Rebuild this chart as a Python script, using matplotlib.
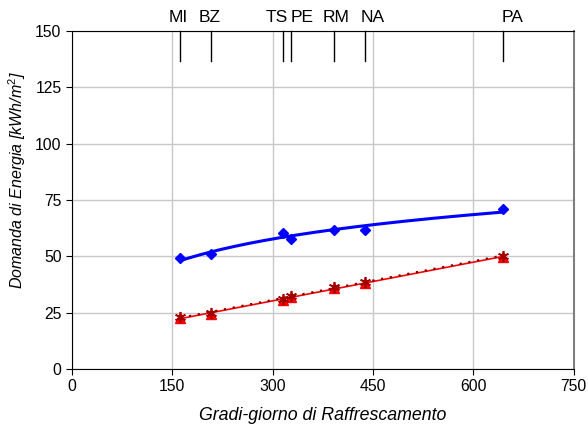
import numpy as np
import matplotlib
matplotlib.use("Agg")
import matplotlib.pyplot as plt

plt.rcParams['font.family'] = ['Liberation Sans', 'DejaVu Sans']
plt.rcParams['mathtext.fontset'] = 'custom'
plt.rcParams['mathtext.rm'] = 'Liberation Sans'
plt.rcParams['mathtext.it'] = 'Liberation Sans:italic'

# cities and cooling degree days
cities = ["MI", "BZ", "TS", "PE", "RM", "NA", "PA"]
gg = [162, 208, 316, 327, 392, 438, 645]

# energy demand
blue = [49.2, 51.0, 60.5, 57.7, 61.7, 61.5, 71.2]
red_tri = [22.6, 24.5, 30.8, 32.0, 36.0, 38.2, 49.8]
red_ast = [23.0, 24.8, 31.2, 32.4, 36.4, 38.6, 50.2]

# label nudges (points) so the city names do not collide
nudge = [-1.5, -1, -5, 8.5, 1.5, 5.5, 7]

fig = plt.figure(figsize=(5.88, 4.32), dpi=100)
ax = fig.add_axes([0.1224, 0.1458, 0.853, 0.7824])

x = np.array(gg, dtype=float)
xs = np.linspace(x.min(), x.max(), 200)

# trend lines
cb = np.polyfit(np.log(x), blue, 1)
ax.plot(xs, np.polyval(cb, np.log(xs)), color='#0000ff', lw=2.2, zorder=3)
cr = np.polyfit(x, red_tri, 1)
ax.plot(xs, np.polyval(cr, xs), color='#ff0000', lw=1.2, zorder=3)
ca = np.polyfit(x, red_ast, 1)
ax.plot(xs, np.polyval(ca, xs), color='#800000', lw=1.6, ls=(0, (1, 3)), zorder=3)

ax.plot(gg, blue, ls='none', marker='D', ms=5.5, color='#0000ff', zorder=4)
ax.plot(gg, red_tri, ls='none', marker='^', ms=6.5, color='#ff0000', zorder=4)
ax.plot(gg, red_ast, ls='none', marker=(6, 2, 0), ms=8, mew=1.2, color='#a00000', zorder=5)

# city markers at the top
for c, g, d in zip(cities, gg, nudge):
    ax.plot([g, g], [150, 136.5], color='black', lw=1, zorder=5, clip_on=False)
    ax.annotate(c, (g, 150), xytext=(d, 4.5), textcoords='offset points',
                ha='center', va='bottom', fontsize=12.5, annotation_clip=False)

ax.set_xlim(0, 750)
ax.set_ylim(0, 150)
ax.set_xticks(range(0, 751, 150))
ax.set_yticks(range(0, 151, 25))
ax.grid(True, color='#c8c8c8', lw=1)
ax.set_axisbelow(True)
ax.tick_params(labelsize=11.3, direction='out', length=4)
for s in ['left', 'bottom', 'top']:
    ax.spines[s].set_color('black')
ax.spines['right'].set_color('#808080')
ax.spines['right'].set_linewidth(1.5)

ax.set_xlabel("Gradi-giorno di Raffrescamento", fontsize=12.8, style='italic', labelpad=9)
ax.set_ylabel("Domanda di Energia [kWh/m$^{2}$]", fontsize=11.5, style='italic')
ax.yaxis.set_label_coords(-0.088, 0.56)

fig.savefig("out.png", dpi=100)
